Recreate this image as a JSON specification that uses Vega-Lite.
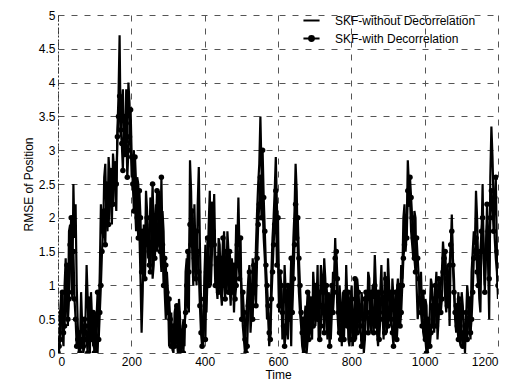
{
"$schema": "https://vega.github.io/schema/vega-lite/v6.json",
"width": 440, "height": 338,
"autosize": "none",
"padding": {"left": 58, "top": 15, "right": 18, "bottom": 34},
"background": "white",
"config": {"view": {"stroke": null}, "font": "Liberation Sans"},
"data": {"values": [
{"t":0,"a":0.05,"b":0.0},{"t":6,"a":0.6,"b":0.2},{"t":12,"a":0.3,"b":0.9},{"t":18,"a":1.0,"b":0.4},{"t":24,"a":0.7,"b":1.3},{"t":30,"a":1.8,"b":0.8},{"t":36,"a":1.2,"b":2.0},{"t":42,"a":2.5,"b":1.5},{"t":48,"a":2.2,"b":0.5},{"t":54,"a":0.4,"b":0.2},
{"t":60,"a":0.1,"b":0.0},{"t":66,"a":0.4,"b":0.1},{"t":72,"a":0.1,"b":0.5},{"t":78,"a":1.3,"b":0.2},{"t":84,"a":0.2,"b":0.8},{"t":90,"a":0.9,"b":0.3},{"t":96,"a":0.1,"b":0.6},{"t":102,"a":0.6,"b":0.1},{"t":108,"a":0.0,"b":0.9},{"t":114,"a":1.2,"b":0.6},
{"t":120,"a":1.9,"b":1.5},{"t":126,"a":2.6,"b":2.1},{"t":132,"a":2.0,"b":2.5},{"t":138,"a":2.9,"b":1.9},{"t":144,"a":2.3,"b":2.7},{"t":150,"a":2.95,"b":2.2},{"t":156,"a":2.4,"b":2.8},{"t":162,"a":3.3,"b":3.2},{"t":168,"a":4.7,"b":3.8},{"t":174,"a":3.6,"b":3.1},
{"t":180,"a":3.0,"b":3.5},{"t":186,"a":3.9,"b":3.4},{"t":192,"a":4.0,"b":3.0},{"t":198,"a":3.2,"b":3.6},{"t":204,"a":2.8,"b":2.5},{"t":210,"a":2.2,"b":2.9},{"t":216,"a":2.6,"b":2.0},{"t":222,"a":1.8,"b":2.4},{"t":228,"a":0.3,"b":1.2},{"t":234,"a":1.9,"b":1.5},
{"t":240,"a":2.4,"b":1.7},{"t":246,"a":1.4,"b":1.6},{"t":252,"a":2.3,"b":1.2},{"t":258,"a":1.1,"b":2.5},{"t":264,"a":2.0,"b":1.4},{"t":270,"a":1.5,"b":2.4},{"t":276,"a":2.4,"b":1.8},{"t":282,"a":1.2,"b":2.6},{"t":288,"a":1.8,"b":1.0},{"t":294,"a":0.5,"b":1.3},
{"t":300,"a":0.9,"b":0.6},{"t":306,"a":0.3,"b":0.5},{"t":312,"a":0.05,"b":0.2},{"t":318,"a":0.6,"b":0.1},{"t":324,"a":0.2,"b":0.7},{"t":330,"a":0.8,"b":0.3},{"t":336,"a":0.0,"b":0.1},{"t":342,"a":0.5,"b":0.0},{"t":348,"a":1.2,"b":0.6},{"t":354,"a":0.7,"b":1.5},
{"t":360,"a":2.85,"b":1.9},{"t":366,"a":1.5,"b":2.1},{"t":372,"a":2.2,"b":1.4},{"t":378,"a":1.0,"b":1.8},{"t":384,"a":2.75,"b":1.2},{"t":390,"a":0.8,"b":0.3},{"t":396,"a":0.1,"b":0.5},{"t":402,"a":1.6,"b":0.2},{"t":408,"a":1.2,"b":1.7},{"t":414,"a":2.4,"b":1.3},
{"t":420,"a":1.5,"b":2.2},{"t":426,"a":2.35,"b":1.6},{"t":432,"a":1.0,"b":1.3},{"t":438,"a":1.7,"b":0.9},{"t":444,"a":0.9,"b":1.4},{"t":450,"a":1.5,"b":1.7},{"t":456,"a":1.1,"b":0.8},{"t":462,"a":1.8,"b":1.2},{"t":468,"a":1.0,"b":1.5},{"t":474,"a":1.4,"b":0.9},
{"t":480,"a":0.6,"b":1.3},{"t":486,"a":1.9,"b":1.0},{"t":492,"a":2.3,"b":1.4},{"t":498,"a":1.2,"b":1.7},{"t":504,"a":0.4,"b":0.9},{"t":510,"a":0.0,"b":0.2},{"t":516,"a":0.8,"b":0.1},{"t":522,"a":1.3,"b":1.2},{"t":528,"a":0.6,"b":0.8},{"t":534,"a":1.1,"b":1.3},
{"t":540,"a":1.6,"b":0.7},{"t":546,"a":2.5,"b":1.9},{"t":552,"a":3.5,"b":2.6},{"t":558,"a":2.2,"b":3.0},{"t":564,"a":1.4,"b":1.8},{"t":570,"a":0.5,"b":1.0},{"t":576,"a":0.1,"b":0.3},{"t":582,"a":1.2,"b":0.8},{"t":588,"a":2.0,"b":1.6},{"t":594,"a":2.9,"b":2.4},
{"t":600,"a":1.5,"b":2.0},{"t":606,"a":0.8,"b":1.2},{"t":612,"a":0.2,"b":0.6},{"t":618,"a":1.3,"b":0.1},{"t":624,"a":0.4,"b":0.9},{"t":630,"a":1.0,"b":0.5},{"t":636,"a":0.1,"b":1.4},{"t":642,"a":1.7,"b":1.1},{"t":648,"a":2.8,"b":2.2},{"t":654,"a":1.5,"b":2.0},
{"t":660,"a":0.6,"b":1.0},{"t":666,"a":0.1,"b":0.3},{"t":672,"a":0.5,"b":0.0},{"t":678,"a":0.0,"b":0.6},{"t":684,"a":0.9,"b":0.2},{"t":690,"a":0.3,"b":0.8},{"t":696,"a":1.2,"b":0.4},{"t":702,"a":0.4,"b":1.0},{"t":708,"a":1.3,"b":0.5},{"t":714,"a":0.6,"b":0.2},
{"t":720,"a":1.1,"b":0.7},{"t":726,"a":1.4,"b":0.3},{"t":732,"a":0.5,"b":1.0},{"t":738,"a":0.9,"b":0.4},{"t":744,"a":0.2,"b":0.8},{"t":750,"a":1.2,"b":0.6},{"t":756,"a":1.7,"b":1.4},{"t":762,"a":0.6,"b":1.1},{"t":768,"a":1.0,"b":0.3},{"t":774,"a":0.1,"b":0.6},
{"t":780,"a":0.5,"b":0.2},{"t":786,"a":1.3,"b":0.6},{"t":792,"a":0.2,"b":0.9},{"t":798,"a":0.8,"b":0.2},{"t":804,"a":0.1,"b":0.5},{"t":810,"a":0.6,"b":1.1},{"t":816,"a":1.1,"b":0.3},{"t":822,"a":0.3,"b":0.7},{"t":828,"a":0.9,"b":0.1},{"t":834,"a":0.0,"b":0.5},
{"t":840,"a":0.7,"b":0.9},{"t":846,"a":1.2,"b":0.3},{"t":852,"a":0.4,"b":0.8},{"t":858,"a":1.0,"b":0.5},{"t":864,"a":1.45,"b":1.0},{"t":870,"a":0.3,"b":0.7},{"t":876,"a":0.8,"b":0.2},{"t":882,"a":1.3,"b":0.9},{"t":888,"a":0.2,"b":0.6},{"t":894,"a":0.9,"b":1.1},
{"t":900,"a":1.4,"b":0.4},{"t":906,"a":0.5,"b":0.9},{"t":912,"a":1.1,"b":0.3},{"t":918,"a":0.2,"b":0.7},{"t":924,"a":0.9,"b":0.2},{"t":930,"a":0.4,"b":1.0},{"t":936,"a":1.3,"b":0.6},{"t":942,"a":2.0,"b":1.4},{"t":948,"a":1.5,"b":2.0},{"t":954,"a":2.85,"b":2.4},
{"t":960,"a":2.3,"b":2.6},{"t":966,"a":1.6,"b":2.0},{"t":972,"a":2.1,"b":1.4},{"t":978,"a":1.0,"b":1.7},{"t":984,"a":0.7,"b":1.1},{"t":990,"a":1.2,"b":0.6},{"t":996,"a":0.3,"b":0.9},{"t":1002,"a":0.8,"b":0.2},{"t":1008,"a":0.0,"b":0.5},{"t":1014,"a":0.6,"b":0.1},
{"t":1020,"a":1.0,"b":0.7},{"t":1026,"a":0.3,"b":0.8},{"t":1032,"a":1.2,"b":0.4},{"t":1038,"a":0.5,"b":1.1},{"t":1044,"a":1.0,"b":0.6},{"t":1050,"a":1.65,"b":1.2},{"t":1056,"a":0.8,"b":1.5},{"t":1062,"a":1.3,"b":0.7},{"t":1068,"a":0.4,"b":1.3},{"t":1074,"a":2.05,"b":1.8},
{"t":1080,"a":1.1,"b":0.9},{"t":1086,"a":0.3,"b":0.7},{"t":1092,"a":0.9,"b":0.2},{"t":1098,"a":0.1,"b":0.6},{"t":1104,"a":0.7,"b":0.1},{"t":1110,"a":0.0,"b":0.4},{"t":1116,"a":1.0,"b":0.2},{"t":1122,"a":0.4,"b":0.8},{"t":1128,"a":1.2,"b":0.5},{"t":1134,"a":1.8,"b":1.4},
{"t":1140,"a":2.4,"b":1.7},{"t":1146,"a":1.3,"b":1.0},{"t":1152,"a":0.6,"b":1.5},{"t":1158,"a":2.5,"b":2.0},{"t":1164,"a":1.0,"b":0.9},{"t":1170,"a":1.9,"b":2.2},{"t":1176,"a":0.5,"b":1.1},{"t":1182,"a":3.35,"b":2.4},{"t":1188,"a":2.2,"b":1.8},{"t":1194,"a":1.4,"b":2.6},
{"t":1200,"a":0.8,"b":1.0},
{"t":3,"a":0.0,"b":0.1},{"t":9,"a":0.9,"b":0.6},{"t":15,"a":0.1,"b":0.3},{"t":21,"a":1.4,"b":0.9},{"t":27,"a":0.4,"b":0.5},{"t":33,"a":1.9,"b":1.6},{"t":39,"a":0.8,"b":0.9},{"t":45,"a":1.7,"b":0.8},{"t":51,"a":1.0,"b":0.1},{"t":57,"a":0.0,"b":0.3},
{"t":63,"a":0.9,"b":0.2},{"t":69,"a":0.0,"b":0.1},{"t":75,"a":0.5,"b":0.4},{"t":81,"a":0.8,"b":0.0},{"t":87,"a":0.0,"b":0.5},{"t":93,"a":0.5,"b":0.2},{"t":99,"a":0.4,"b":0.0},{"t":105,"a":0.0,"b":0.5},{"t":111,"a":0.5,"b":0.2},{"t":117,"a":2.2,"b":1.0},
{"t":123,"a":1.7,"b":1.8},{"t":129,"a":2.8,"b":1.6},{"t":135,"a":1.8,"b":2.4},{"t":141,"a":2.6,"b":2.2},{"t":147,"a":1.9,"b":2.5},{"t":153,"a":2.7,"b":2.6},{"t":159,"a":2.1,"b":2.5},{"t":165,"a":3.8,"b":3.5},{"t":171,"a":3.2,"b":3.3},{"t":177,"a":3.9,"b":2.7},
{"t":183,"a":2.9,"b":3.0},{"t":189,"a":3.1,"b":2.6},{"t":195,"a":3.7,"b":3.2},{"t":201,"a":2.6,"b":2.9},{"t":207,"a":3.0,"b":2.1},{"t":213,"a":1.8,"b":2.5},{"t":219,"a":2.5,"b":1.7},{"t":225,"a":1.1,"b":2.0},{"t":231,"a":0.9,"b":1.8},{"t":237,"a":1.3,"b":1.1},
{"t":243,"a":2.1,"b":2.0},{"t":249,"a":1.5,"b":1.3},{"t":255,"a":2.2,"b":1.9},{"t":261,"a":1.3,"b":1.8},{"t":267,"a":2.2,"b":1.7},{"t":273,"a":1.6,"b":2.1},{"t":279,"a":1.5,"b":1.5},{"t":285,"a":2.1,"b":1.6},{"t":291,"a":0.9,"b":1.4},{"t":297,"a":1.2,"b":0.9},
{"t":303,"a":0.1,"b":0.8},{"t":309,"a":0.6,"b":0.1},{"t":315,"a":0.0,"b":0.4},{"t":321,"a":0.7,"b":0.2},{"t":327,"a":0.0,"b":0.6},{"t":333,"a":0.5,"b":0.0},{"t":339,"a":0.3,"b":0.3},{"t":345,"a":0.1,"b":0.4},{"t":351,"a":1.4,"b":1.0},{"t":357,"a":0.6,"b":1.2},
{"t":363,"a":2.4,"b":1.6},{"t":369,"a":1.0,"b":1.7},{"t":375,"a":1.5,"b":1.1},{"t":381,"a":2.2,"b":1.5},{"t":387,"a":1.6,"b":0.7},{"t":393,"a":0.2,"b":0.1},{"t":399,"a":1.1,"b":0.8},{"t":405,"a":0.6,"b":1.2},{"t":411,"a":1.9,"b":1.0},{"t":417,"a":1.0,"b":1.6},
{"t":423,"a":1.9,"b":1.8},{"t":429,"a":1.4,"b":1.0},{"t":435,"a":0.8,"b":1.4},{"t":441,"a":1.6,"b":1.1},{"t":447,"a":0.7,"b":1.2},{"t":453,"a":1.8,"b":1.0},{"t":459,"a":0.9,"b":1.5},{"t":465,"a":1.5,"b":0.9},{"t":471,"a":0.7,"b":1.3},{"t":477,"a":1.2,"b":1.1},
{"t":483,"a":1.1,"b":0.8},{"t":489,"a":1.6,"b":1.6},{"t":495,"a":1.5,"b":1.1},{"t":501,"a":0.9,"b":0.5},{"t":507,"a":0.2,"b":0.6},{"t":513,"a":0.5,"b":0.0},{"t":519,"a":1.1,"b":0.7},{"t":525,"a":0.3,"b":1.0},{"t":531,"a":1.4,"b":0.5},{"t":537,"a":0.9,"b":1.0},
{"t":543,"a":2.1,"b":1.4},{"t":549,"a":2.8,"b":2.2},{"t":555,"a":2.7,"b":2.0},{"t":561,"a":1.7,"b":2.3},{"t":567,"a":1.0,"b":1.3},{"t":573,"a":0.6,"b":0.7},{"t":579,"a":0.3,"b":0.2},{"t":585,"a":1.7,"b":1.2},{"t":591,"a":2.4,"b":1.9},{"t":597,"a":2.2,"b":1.3},
{"t":603,"a":0.6,"b":0.7},{"t":609,"a":1.0,"b":1.0},{"t":615,"a":0.5,"b":0.4},{"t":621,"a":0.9,"b":0.3},{"t":627,"a":0.2,"b":1.0},{"t":633,"a":0.8,"b":0.8},{"t":639,"a":1.1,"b":0.6},{"t":645,"a":2.1,"b":1.6},{"t":651,"a":2.4,"b":1.7},{"t":657,"a":0.9,"b":1.4},
{"t":663,"a":0.4,"b":0.6},{"t":669,"a":0.0,"b":0.5},{"t":675,"a":0.7,"b":0.2},{"t":681,"a":0.2,"b":0.9},{"t":687,"a":0.7,"b":0.4},{"t":693,"a":0.2,"b":0.5},{"t":699,"a":0.9,"b":0.7},{"t":705,"a":0.7,"b":0.8},{"t":711,"a":0.2,"b":0.9},{"t":717,"a":1.3,"b":0.4},
{"t":723,"a":0.6,"b":0.9},{"t":729,"a":1.1,"b":0.6},{"t":735,"a":0.2,"b":0.8},{"t":741,"a":0.8,"b":0.1},{"t":747,"a":0.6,"b":1.0},{"t":753,"a":1.1,"b":0.9},{"t":759,"a":1.2,"b":1.5},{"t":765,"a":0.3,"b":0.6},{"t":771,"a":0.7,"b":0.2},{"t":777,"a":0.9,"b":0.5},
{"t":783,"a":0.4,"b":0.9},{"t":789,"a":0.8,"b":0.4},{"t":795,"a":0.1,"b":0.6},{"t":801,"a":1.0,"b":0.8},{"t":807,"a":0.5,"b":0.2},{"t":813,"a":0.2,"b":0.6},{"t":819,"a":0.9,"b":0.9},{"t":825,"a":0.4,"b":0.4},{"t":831,"a":0.7,"b":0.2},{"t":837,"a":0.2,"b":0.8},
{"t":843,"a":0.5,"b":0.6},{"t":849,"a":1.1,"b":0.5},{"t":855,"a":0.3,"b":0.9},{"t":861,"a":0.8,"b":0.3},{"t":867,"a":1.0,"b":0.4},{"t":873,"a":0.1,"b":0.9},{"t":879,"a":0.9,"b":0.5},{"t":885,"a":0.6,"b":0.8},{"t":891,"a":1.2,"b":0.3},{"t":897,"a":0.3,"b":0.8},
{"t":903,"a":1.0,"b":0.6},{"t":909,"a":0.4,"b":0.5},{"t":915,"a":0.8,"b":0.1},{"t":921,"a":0.3,"b":0.9},{"t":927,"a":1.1,"b":0.5},{"t":933,"a":0.7,"b":0.4},{"t":939,"a":1.1,"b":1.0},{"t":945,"a":2.2,"b":1.6},{"t":951,"a":1.8,"b":1.7},{"t":957,"a":2.5,"b":2.2},
{"t":963,"a":1.8,"b":2.3},{"t":969,"a":1.4,"b":1.7},{"t":975,"a":2.0,"b":1.2},{"t":981,"a":0.5,"b":1.4},{"t":987,"a":1.1,"b":0.8},{"t":993,"a":0.6,"b":0.4},{"t":999,"a":0.2,"b":0.7},{"t":1005,"a":0.7,"b":0.0},{"t":1011,"a":0.3,"b":0.4},{"t":1017,"a":1.1,"b":0.3},
{"t":1023,"a":0.5,"b":0.4},{"t":1029,"a":0.9,"b":1.0},{"t":1035,"a":0.2,"b":0.7},{"t":1041,"a":0.8,"b":0.9},{"t":1047,"a":1.2,"b":0.8},{"t":1053,"a":1.4,"b":1.4},{"t":1059,"a":0.6,"b":1.1},{"t":1065,"a":1.1,"b":0.9},{"t":1071,"a":1.5,"b":1.6},{"t":1077,"a":1.4,"b":1.3},
{"t":1083,"a":0.5,"b":0.6},{"t":1089,"a":0.6,"b":0.4},{"t":1095,"a":0.2,"b":0.8},{"t":1101,"a":0.9,"b":0.3},{"t":1107,"a":0.3,"b":0.2},{"t":1113,"a":0.5,"b":0.6},{"t":1119,"a":0.8,"b":0.5},{"t":1125,"a":0.2,"b":0.3},{"t":1131,"a":1.5,"b":0.9},{"t":1137,"a":1.6,"b":1.5},
{"t":1143,"a":2.0,"b":1.2},{"t":1149,"a":0.8,"b":1.3},{"t":1155,"a":1.7,"b":1.8},{"t":1161,"a":1.4,"b":1.5},{"t":1167,"a":1.6,"b":1.4},{"t":1173,"a":1.3,"b":1.8},{"t":1179,"a":2.6,"b":2.0},{"t":1185,"a":2.9,"b":2.2},{"t":1191,"a":1.7,"b":2.3},{"t":1197,"a":1.2,"b":1.5}
]},
"transform": [{"fold": ["a", "b"], "as": ["k", "v"]}],
"encoding": {
  "x": {"field": "t", "type": "quantitative", "scale": {"domain": [0, 1200], "nice": false},
        "axis": {"values": [0,200,400,600,800,1000,1200], "format": "d", "title": "Time", "titleFontSize": 12, "titleFontWeight": "normal", "titlePadding": 2,
                 "labelFontSize": 12, "labelColor": "black", "titleColor": "black", "domain": false, "ticks": false, "labelPadding": 3,
                 "grid": true, "gridColor": "#555", "gridDash": [6, 7], "gridWidth": 1}},
  "y": {"field": "v", "type": "quantitative", "scale": {"domain": [0, 5], "nice": false},
        "axis": {"values": [0,0.5,1,1.5,2,2.5,3,3.5,4,4.5,5], "format": "~g", "title": "RMSE of Position", "titleFontSize": 12, "titleFontWeight": "normal", "titlePadding": 3,
                 "labelFontSize": 12, "labelColor": "black", "titleColor": "black", "domain": true, "domainColor": "#333", "domainDash": [2, 2], "ticks": false, "labelPadding": 3,
                 "grid": true, "gridColor": "#555", "gridDash": [6, 7], "gridWidth": 1}}
},
"layer": [
  {"mark": {"type": "line", "strokeWidth": 2.2, "clip": true},
   "encoding": {
     "detail": {"field": "k"},
     "color": {"field": "k", "type": "nominal", "scale": {"domain": ["a", "b"], "range": ["black", "black"]},
       "legend": {"title": null, "orient": "none", "legendX": 244, "legendY": -4, "labelFontSize": 12, "labelColor": "black", "symbolSize": 260, "symbolStrokeWidth": 2, "rowPadding": 2, "labelOffset": 14,
         "labelExpr": "datum.label == 'a' ? 'SKF-without Decorrelation' : 'SKF-with Decorrelation'",
         "encode": {"symbols": {"update": {
           "shape": {"signal": "datum.value == 'b' ? 'M-1,0L1,0M0.3,0A0.3,0.3,0,1,1,-0.3,0A0.3,0.3,0,1,1,0.3,0Z' : 'M-1,0L1,0'"},
           "fill": {"signal": "datum.value == 'b' ? 'black' : 'transparent'"},
           "stroke": {"value": "black"}}}}}}
   }},
  {"transform": [{"filter": "datum.k == 'b'"}],
   "mark": {"type": "point", "filled": true, "size": 30, "color": "black", "opacity": 1, "clip": true}}
]
}
